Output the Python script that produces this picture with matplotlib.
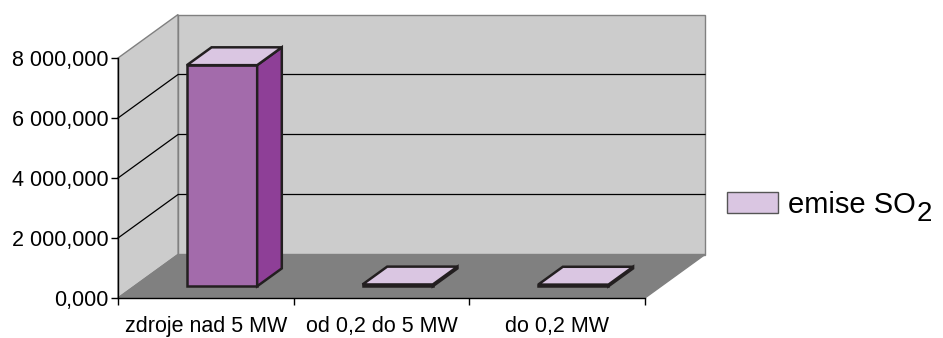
import matplotlib
matplotlib.use("Agg")
import matplotlib.pyplot as plt
from matplotlib.patches import Polygon, Patch

plt.rcParams['font.family'] = ['Liberation Sans', 'DejaVu Sans']

categories = ["zdroje nad 5 MW", "od 0,2 do 5 MW", "do 0,2 MW"]
values = [7370.0, 60.0, 55.0]
yticks = [0, 2000, 4000, 6000, 8000]
series_name = "emise SO"
series_sub = "2"

# colours of the old 3D column chart
wall = "#cccccc"
floor = "#808080"
front_c = "#a36bab"
side_c = "#8e3f97"
top_c = "#dac6e2"
edge_c = "#231f20"

# oblique depth offset (in data units)
dx = 0.342
dy = 1450.0
f0, f1 = 0.27, 0.68   # bar position inside the depth
bw = 0.4

fig = plt.figure(figsize=(9.43, 3.38), dpi=100)
ax = fig.add_axes([118 / 943, 40 / 338, 587 / 943, 283.5 / 338])
ax.set_xlim(0, 3 + dx)
ax.set_ylim(0, 8000 + dy)
for s in ax.spines.values():
    s.set_visible(False)

def poly(pts, fc, ec, lw, z):
    ax.add_patch(Polygon(pts, closed=True, facecolor=fc, edgecolor=ec,
                         linewidth=lw, zorder=z, clip_on=False))

ymax = yticks[-1]
# back wall, side wall, floor
poly([(dx, dy), (3 + dx, dy), (3 + dx, ymax + dy), (dx, ymax + dy)], wall, "#808080", 1.0, 1)
poly([(0, 0), (dx, dy), (dx, ymax + dy), (0, ymax)], wall, "#808080", 1.0, 1)
poly([(0, 0), (3, 0), (3 + dx, dy), (dx, dy)], floor, "#808080", 1.0, 2)

# gridlines on walls (top one is the wall edge)
for v in yticks[1:-1]:
    ax.plot([0, dx, 3 + dx], [v, v + dy, v + dy], color="black", lw=0.9, zorder=1.5, clip_on=False)

# front axes lines
ax.plot([0, 0], [0, ymax], color="black", lw=1.0, zorder=3, clip_on=False)
ax.plot([0, 3], [0, 0], color="black", lw=1.0, zorder=3, clip_on=False)

# bars
for i, v in enumerate(values):
    xl = i + 0.5 - bw / 2 + f0 * dx
    xr = i + 0.5 + bw / 2 + f0 * dx
    y0 = f0 * dy
    ddx = (f1 - f0) * dx
    ddy = (f1 - f0) * dy
    poly([(xl, y0), (xr, y0), (xr, y0 + v), (xl, y0 + v)], front_c, edge_c, 1.8, 5)
    poly([(xr, y0), (xr + ddx, y0 + ddy), (xr + ddx, y0 + ddy + v), (xr, y0 + v)], side_c, edge_c, 1.8, 5)
    poly([(xl, y0 + v), (xr, y0 + v), (xr + ddx, y0 + ddy + v), (xl + ddx, y0 + ddy + v)], top_c, edge_c, 1.8, 6)

# ticks
ax.set_yticks(yticks)
ax.set_yticklabels([f"{v:,.3f}".replace(",", " ").replace(".", ",") for v in yticks])
ax.set_xticks([0, 1, 2, 3])
ax.set_xticklabels([])
ax.set_xticks([0.5, 1.5, 2.5], minor=True)
ax.set_xticklabels(categories, minor=True)
ax.tick_params(axis="y", length=5, width=1, pad=2, labelsize=15.5, colors="black")
ax.tick_params(axis="x", which="major", length=5, width=1)
ax.tick_params(axis="x", which="minor", length=0, pad=13, labelsize=15.5)

handle = Patch(facecolor=top_c, edgecolor="#555555", linewidth=1.0)
leg = fig.legend([handle], [series_name], loc="center left", bbox_to_anchor=(727 / 943, 1 - 205 / 338),
                 frameon=False, fontsize=21, handlelength=1.75, handleheight=0.72,
                 handletextpad=0.35, borderpad=0, borderaxespad=0)

# subscript 2, nearly full size as in the original
fig.canvas.draw()
bb = leg.get_texts()[0].get_window_extent()
fig.text((bb.x1 + 1) / 943, (bb.y0 - 8) / 338, series_sub, fontsize=20, va="bottom", ha="left")

fig.savefig("out.png", dpi=100)
